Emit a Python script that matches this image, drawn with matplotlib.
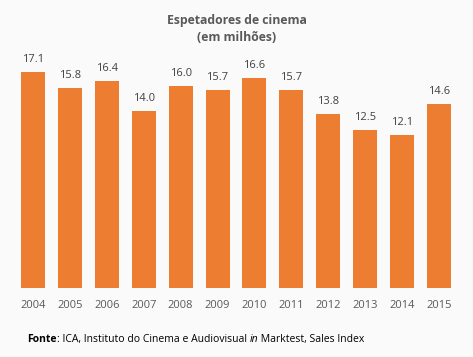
import matplotlib
matplotlib.use("Agg")
import matplotlib.pyplot as plt

plt.rcParams['font.family'] = ['Open Sans', 'DejaVu Sans']

anos = ['2004', '2005', '2006', '2007', '2008', '2009',
        '2010', '2011', '2012', '2013', '2014', '2015']
espetadores = [17.1, 15.8, 16.4, 14.0, 16.0, 15.7, 16.6, 15.7, 13.8, 12.5, 12.1, 14.6]

laranja = '#ED7D31'
fundo = '#FAFAFA'

fig = plt.figure(figsize=(4.73, 3.57), dpi=100, facecolor=fundo)
ax = fig.add_axes([0.0307, 0.1933, 0.9366, 0.7076], facecolor=fundo)

x = range(len(anos))
barras = ax.bar(x, espetadores, width=0.65, color=laranja)
for b, v in zip(barras, espetadores):
    ax.annotate('%.1f' % v, (b.get_x() + b.get_width() / 2, v),
                xytext=(0, 5), textcoords='offset points',
                ha='center', va='bottom', fontsize=8, color='#404040')

ax.set_xlim(-0.5, len(anos) - 0.5)
ax.set_ylim(0, 20)
ax.set_xticks(list(x))
ax.set_xticklabels(anos, fontsize=8, color='#595959')
ax.tick_params(axis='x', length=0, pad=9)
ax.set_yticks([])
for s in ax.spines.values():
    s.set_visible(False)

fig.text(0.5, 0.96, 'Espetadores de cinema\n(em milhões)', ha='center', va='top',
         fontsize=8.8, fontweight='bold', color='#595959', linespacing=1.35)

# rodapé com partes em negrito e itálico
partes = [('Fonte', 'bold', 'normal'),
          (': ICA, Instituto do Cinema e Audiovisual ', 'normal', 'normal'),
          ('in', 'normal', 'italic'),
          (' Marktest, Sales Index', 'normal', 'normal')]
fig.canvas.draw()
r = fig.canvas.get_renderer()
xpos = 27
for txt, peso, estilo in partes:
    t = fig.text(xpos / 473, 1 - 342 / 357, txt, ha='left', va='baseline', fontsize=7.5,
                 fontweight=peso, fontstyle=estilo, color='black')
    bb = t.get_window_extent(renderer=r)
    xpos += bb.width

fig.savefig('out.png', dpi=100, facecolor=fundo)
